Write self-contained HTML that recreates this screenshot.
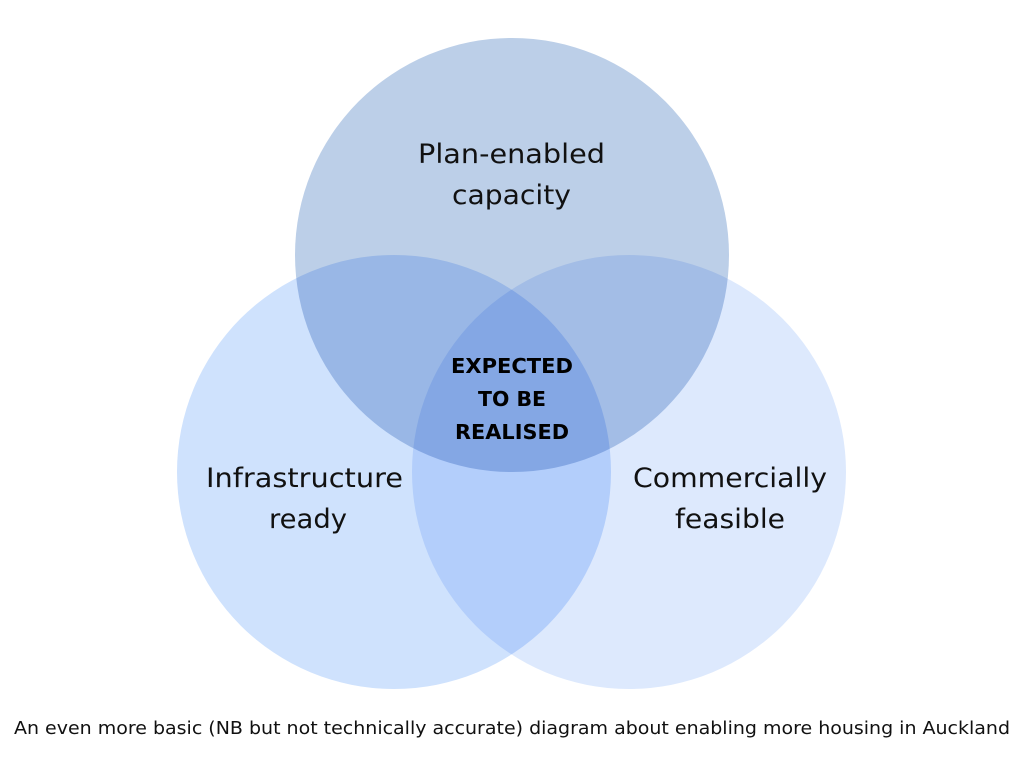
<!DOCTYPE html>
<html><head><meta charset="utf-8"><style>
html,body{margin:0;padding:0;background:#fff;}
svg{display:block;}
</style></head><body>
<svg width="1024" height="768" viewBox="0 0 1024 768" xmlns="http://www.w3.org/2000/svg" font-family="DejaVu Sans, Liberation Sans, sans-serif">
<rect width="1024" height="768" fill="#fff"/>
<g style="isolation:isolate">
<circle cx="629" cy="472" r="217" fill="#dde9fd" style="mix-blend-mode:multiply"/>
<circle cx="394" cy="472" r="217" fill="#cfe2fd" style="mix-blend-mode:multiply"/>
<circle cx="512" cy="255" r="217" fill="#bccfe8" style="mix-blend-mode:multiply"/>
</g>
<g fill="#111" font-size="27" text-anchor="middle" lengthAdjust="spacingAndGlyphs">
<text x="511.5" y="163" textLength="187" lengthAdjust="spacingAndGlyphs">Plan-enabled</text>
<text x="511.5" y="204" textLength="119" lengthAdjust="spacingAndGlyphs">capacity</text>
<text x="304.5" y="487" textLength="197" lengthAdjust="spacingAndGlyphs">Infrastructure</text>
<text x="308" y="528" textLength="78" lengthAdjust="spacingAndGlyphs">ready</text>
<text x="730" y="487" textLength="194" lengthAdjust="spacingAndGlyphs">Commercially</text>
<text x="730" y="528" textLength="110" lengthAdjust="spacingAndGlyphs">feasible</text>
</g>
<g fill="#000" font-size="20" font-weight="bold" text-anchor="middle">
<text x="512" y="373" textLength="122" lengthAdjust="spacingAndGlyphs">EXPECTED</text>
<text x="512" y="406" textLength="68" lengthAdjust="spacingAndGlyphs">TO BE</text>
<text x="512" y="439" textLength="114" lengthAdjust="spacingAndGlyphs">REALISED</text>
</g>
<text x="512" y="734" font-size="18" text-anchor="middle" fill="#111" textLength="996" lengthAdjust="spacingAndGlyphs">An even more basic (NB but not technically accurate) diagram about enabling more housing in Auckland</text>
</svg>
</body></html>
